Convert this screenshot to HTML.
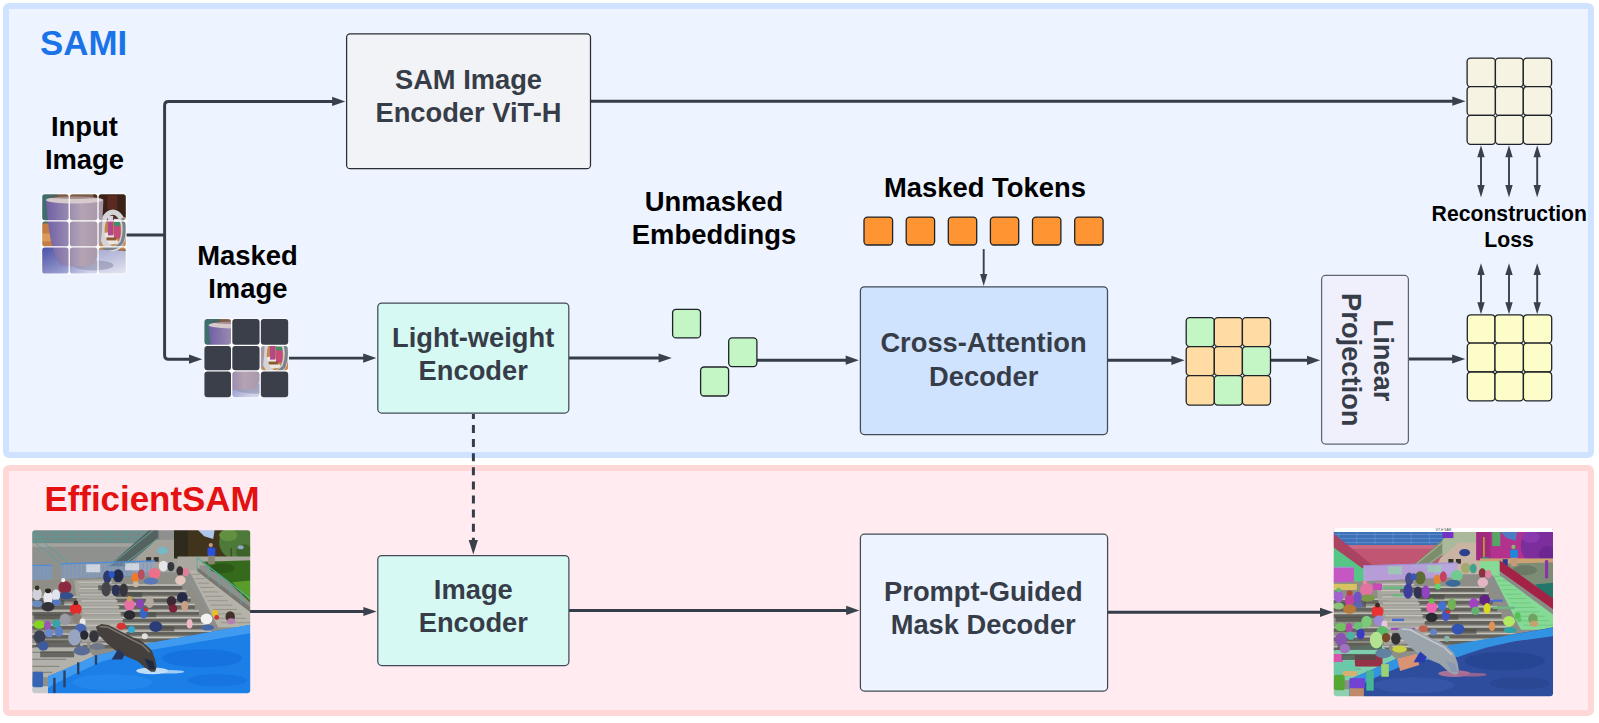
<!DOCTYPE html>
<html><head><meta charset="utf-8">
<style>
html,body{margin:0;padding:0;background:#fff;}
body{width:1599px;height:723px;overflow:hidden;}
svg{display:block;}
text{font-family:"Liberation Sans",sans-serif;font-weight:bold;}
.ln{stroke:#353d48;stroke-width:2.95;fill:none;stroke-linejoin:round;}
.tl{stroke:#39414c;stroke-width:1.9;fill:none;}
.ah{fill:#39414c;stroke:none;}
.bx{stroke:#434a55;stroke-width:1.25;}
.lb{fill:#000;font-size:27.4px;text-anchor:middle;}
.bt{fill:#373d48;font-size:27.3px;text-anchor:middle;}
.sq{stroke:#1f2228;stroke-width:1.3;}
</style></head><body>
<svg width="1599" height="723" viewBox="0 0 1599 723">
<!-- PANELS -->
<rect x="6" y="6" width="1585" height="449" rx="3" fill="#edf4ff" stroke="#cfe2ff" stroke-width="6"/>
<rect x="6" y="468" width="1585" height="245" rx="3" fill="#ffebf0" stroke="#ffd7d7" stroke-width="6"/>
<!-- TITLES -->
<text x="40" y="55.4" font-size="34.9" fill="#1a73e8">SAMI</text>
<text x="44.4" y="510.6" font-size="34.9" fill="#e31111">EfficientSAM</text>
<!-- LABELS -->
<text class="lb" x="84.4" y="135.5">Input</text>
<text class="lb" x="84.5" y="168.7">Image</text>
<text class="lb" x="247.4" y="264.8">Masked</text>
<text class="lb" x="247.8" y="297.7">Image</text>
<text class="lb" x="714" y="211">Unmasked</text>
<text class="lb" x="714" y="244">Embeddings</text>
<text class="lb" x="985" y="197.3">Masked Tokens</text>
<text class="lb" x="1509.3" y="221.2" style="font-size:21.2px">Reconstruction</text>
<text class="lb" x="1509" y="246.7" style="font-size:21.2px">Loss</text>
<!-- CONNECTORS -->
<g id="conn">
<path class="ln" style="stroke-width:3.2" d="M126 235 H164.6"/>
<path class="ln" d="M334 101.4 H168.6 Q164.6 101.4 164.6 105.4 V355.2 Q164.6 359.2 168.6 359.2 H191"/>
<path class="ah" d="M345.3 101.4 l-13.2 -4.6 v9.2z"/>
<path class="ah" d="M202.2 359.2 l-13.2 -4.6 v9.2z"/>
<path class="ln" d="M289 358.1 H365"/><path class="ah" d="M376.4 358.1 l-13.2 -4.6 v9.2z"/>
<path class="ln" d="M569 358 H660"/><path class="ah" d="M671.8 358 l-13.2 -4.6 v9.2z"/>
<path class="ln" d="M757 360.2 H847"/><path class="ah" d="M858.9 360.2 l-13.2 -4.6 v9.2z"/>
<path class="ln" d="M1107.5 360.3 H1173"/><path class="ah" d="M1184.6 360.3 l-13.2 -4.6 v9.2z"/>
<path class="ln" d="M1271 360.3 H1308"/><path class="ah" d="M1320.2 360.3 l-13.2 -4.6 v9.2z"/>
<path class="ln" d="M1408.4 359 H1453"/><path class="ah" d="M1465.3 359 l-13.2 -4.6 v9.2z"/>
<path class="ln" d="M590.5 101.2 H1453"/><path class="ah" d="M1465.5 101.2 l-13.2 -4.6 v9.2z"/>
<path class="ln" d="M250 611.5 H365"/><path class="ah" d="M376.6 611.5 l-13.2 -4.6 v9.2z"/>
<path class="ln" d="M569 610.5 H847"/><path class="ah" d="M859.4 610.4 l-13.2 -4.6 v9.2z"/>
<path class="ln" d="M1107.5 612.3 H1321"/><path class="ah" d="M1333.2 612.3 l-13.2 -4.6 v9.2z"/>
<path class="ln" stroke-dasharray="8 6.1" stroke-dashoffset="3" style="stroke-width:3" d="M473.4 413.9 V541"/>
<path class="ah" d="M473.3 554.6 l-4.6 -14.6 h9.2z"/>
<path class="tl" d="M983.7 249.1 V276"/><path class="ah" d="M983.7 285.9 l-3.6 -12 h7.2z"/>
</g>
<!-- double arrows -->
<g id="dbl">
<path class="tl" d="M1481 156 V186 M1509 156 V186 M1537.2 156 V186 M1481 274 V303 M1509 274 V303 M1537.2 274 V303"/>
<path class="ah" d="M1481 145.3 l-3.7 12 h7.4z M1509 145.3 l-3.7 12 h7.4z M1537.2 145.3 l-3.7 12 h7.4z"/>
<path class="ah" d="M1481 197.4 l-3.7 -12.3 h7.4z M1509 197.4 l-3.7 -12.3 h7.4z M1537.2 197.4 l-3.7 -12.3 h7.4z"/>
<path class="ah" d="M1481 263.3 l-3.7 11.7 h7.4z M1509 263.3 l-3.7 11.7 h7.4z M1537.2 263.3 l-3.7 11.7 h7.4z"/>
<path class="ah" d="M1481 314.2 l-3.7 -12 h7.4z M1509 314.2 l-3.7 -12 h7.4z M1537.2 314.2 l-3.7 -12 h7.4z"/>
</g>
<!-- BOXES -->
<g id="boxes">
<rect class="bx" style="stroke:#2a2d33" x="346.6" y="33.9" width="243.9" height="134.8" rx="3.5" fill="#f2f3f6"/>
<text class="bt" x="468.5" y="89">SAM Image</text>
<text class="bt" x="468.5" y="122">Encoder ViT-H</text>
<rect class="bx" x="377.8" y="303" width="191" height="110" rx="4" fill="#d7f9f4"/>
<text class="bt" x="473.2" y="347.1">Light-weight</text>
<text class="bt" x="473.2" y="380.1">Encoder</text>
<rect class="bx" x="860.4" y="286.8" width="247.1" height="147.7" rx="4" fill="#cfe3ff"/>
<text class="bt" x="983.5" y="351.9">Cross-Attention</text>
<text class="bt" x="983.7" y="385.5">Decoder</text>
<rect class="bx" style="stroke:#5d6570" x="1321.6" y="275.4" width="86.8" height="168.6" rx="4" fill="#f0f0fc"/>
<text class="bt" transform="translate(1374.2 360.5) rotate(90)" x="0" y="0">Linear</text>
<text class="bt" transform="translate(1341.8 359.8) rotate(90)" x="0" y="0">Projection</text>
<rect class="bx" x="377.8" y="555.5" width="191.1" height="110" rx="4" fill="#d7f9f4"/>
<text class="bt" x="473.3" y="599.1">Image</text>
<text class="bt" x="473.3" y="632">Encoder</text>
<rect class="bx" x="860.4" y="534.2" width="247.2" height="156.8" rx="4" fill="#edf4ff"/>
<text class="bt" x="983.4" y="600.9">Prompt-Guided</text>
<text class="bt" x="983.2" y="633.8">Mask Decoder</text>
</g>
<!-- SQUARES -->
<g id="squares">
<g fill="#c3f6c4">
<rect class="sq" x="672.6" y="309.3" width="27.9" height="28.6" rx="3.5"/>
<rect class="sq" x="728.7" y="337.9" width="28.2" height="28.7" rx="3.5"/>
<rect class="sq" x="700.6" y="367" width="28" height="29" rx="3.5"/>
</g>
<g fill="#ff9532">
<rect class="sq" x="864" y="217.1" width="28.6" height="27.9" rx="3.5"/>
<rect class="sq" x="906.2" y="217.1" width="28.4" height="27.9" rx="3.5"/>
<rect class="sq" x="948.3" y="217.1" width="28.4" height="27.9" rx="3.5"/>
<rect class="sq" x="990.4" y="217.1" width="28.3" height="27.9" rx="3.5"/>
<rect class="sq" x="1032.5" y="217.1" width="28.4" height="27.9" rx="3.5"/>
<rect class="sq" x="1074.7" y="217.1" width="28.4" height="27.9" rx="3.5"/>
</g>
</g>
<g id="grids">
<rect class="sq" x="1186.2" y="317.7" width="28.1" height="28.9" rx="3.5" fill="#c3f6c4"/>
<rect class="sq" x="1214.3" y="317.7" width="28.1" height="28.9" rx="3.5" fill="#ffdca3"/>
<rect class="sq" x="1242.4" y="317.7" width="28.1" height="28.9" rx="3.5" fill="#ffdca3"/>
<rect class="sq" x="1186.2" y="346.6" width="28.1" height="29.0" rx="3.5" fill="#ffdca3"/>
<rect class="sq" x="1214.3" y="346.6" width="28.1" height="29.0" rx="3.5" fill="#ffdca3"/>
<rect class="sq" x="1242.4" y="346.6" width="28.1" height="29.0" rx="3.5" fill="#c3f6c4"/>
<rect class="sq" x="1186.2" y="375.6" width="28.1" height="29.5" rx="3.5" fill="#ffdca3"/>
<rect class="sq" x="1214.3" y="375.6" width="28.1" height="29.5" rx="3.5" fill="#c3f6c4"/>
<rect class="sq" x="1242.4" y="375.6" width="28.1" height="29.5" rx="3.5" fill="#ffdca3"/>
<rect class="sq" x="1467.3" y="314.8" width="27.7" height="28.3" rx="3.5" fill="#fdfdc9"/>
<rect class="sq" x="1495.0" y="314.8" width="28.4" height="28.3" rx="3.5" fill="#fdfdc9"/>
<rect class="sq" x="1523.4" y="314.8" width="28.3" height="28.3" rx="3.5" fill="#fdfdc9"/>
<rect class="sq" x="1467.3" y="343.1" width="27.7" height="28.9" rx="3.5" fill="#fdfdc9"/>
<rect class="sq" x="1495.0" y="343.1" width="28.4" height="28.9" rx="3.5" fill="#fdfdc9"/>
<rect class="sq" x="1523.4" y="343.1" width="28.3" height="28.9" rx="3.5" fill="#fdfdc9"/>
<rect class="sq" x="1467.3" y="372.0" width="27.7" height="28.8" rx="3.5" fill="#fdfdc9"/>
<rect class="sq" x="1495.0" y="372.0" width="28.4" height="28.8" rx="3.5" fill="#fdfdc9"/>
<rect class="sq" x="1523.4" y="372.0" width="28.3" height="28.8" rx="3.5" fill="#fdfdc9"/>
<rect class="sq" x="1467.1" y="58.1" width="28.3" height="28.6" rx="3.5" fill="#f6f3e2"/>
<rect class="sq" x="1495.4" y="58.1" width="27.9" height="28.6" rx="3.5" fill="#f6f3e2"/>
<rect class="sq" x="1523.3" y="58.1" width="28.3" height="28.6" rx="3.5" fill="#f6f3e2"/>
<rect class="sq" x="1467.1" y="86.7" width="28.3" height="28.7" rx="3.5" fill="#f6f3e2"/>
<rect class="sq" x="1495.4" y="86.7" width="27.9" height="28.7" rx="3.5" fill="#f6f3e2"/>
<rect class="sq" x="1523.3" y="86.7" width="28.3" height="28.7" rx="3.5" fill="#f6f3e2"/>
<rect class="sq" x="1467.1" y="115.4" width="28.3" height="28.9" rx="3.5" fill="#f6f3e2"/>
<rect class="sq" x="1495.4" y="115.4" width="27.9" height="28.9" rx="3.5" fill="#f6f3e2"/>
<rect class="sq" x="1523.3" y="115.4" width="28.3" height="28.9" rx="3.5" fill="#f6f3e2"/>
</g>
<!-- PHOTO_L -->
<defs><clipPath id="cpL"><rect x="0" y="0.00" width="218" height="163.00" rx="3"/></clipPath><filter id="blL" x="-5%" y="-5%" width="110%" height="110%"><feGaussianBlur stdDeviation="0.55"/></filter></defs>
<g transform="translate(32.2 530.3) scale(1.0000 1.0000)" clip-path="url(#cpL)">
<g filter="url(#blL)">
<rect x="-3" y="-3" width="224" height="169" fill="#8e908d"/>
<rect x="-3" y="-3" width="130" height="16" fill="#788886"/>
<path d="M0 2.5H120M0 6.5H118M0 10.5H112" stroke="#5b9a98" stroke-width="0.9" fill="none"/>
<path d="M5 0V12M23 0V12M41 0V12M59 0V12M77 0V12M95 0V12" stroke="#5b9a98" stroke-width="0.8"/>
<rect x="-3" y="13" width="112" height="40" fill="#8f918f"/>
<rect x="-3" y="13" width="112" height="3.5" fill="#a2a39e"/>
<path d="M0 3L40 35M0 10L32 36" stroke="#56a09a" stroke-width="0.9" fill="none"/>
<polygon points="76,36 92,36 126,9 126,-1 118,-1" fill="#56625f"/>
<path d="M78 35L121 0M90 35L126 8" stroke="#5aa8a0" stroke-width="1" fill="none"/>
<polygon points="100,38 106,26 124,9.5 146,9.5 146,42 100,42" fill="#a4a19a"/>
<ellipse cx="130.2" cy="20.4" rx="5.4" ry="3.6" fill="#74b9c9"/>
<rect x="114" y="26.8" width="5" height="4.6" fill="#35322f"/><rect x="121.5" y="26.8" width="5" height="4.6" fill="#35322f"/>
<rect x="141.8" y="-3" width="80" height="31" fill="#40361f"/>
<rect x="141.8" y="-3" width="14" height="31" fill="#2f2c1c"/>
<polygon points="165,-1 182.5,-1 181,8.7 172,6" fill="#adc6ea"/>
<ellipse cx="204" cy="12" rx="17" ry="17" fill="#4e7a38"/>
<ellipse cx="196" cy="5" rx="9" ry="6" fill="#64903f"/>
<ellipse cx="212" cy="22" rx="8" ry="8" fill="#3d6428"/>
<ellipse cx="208.5" cy="17" rx="3" ry="2" fill="#8fa6c5"/>
<path d="M199 18V34M210 26V46" stroke="#4a4430" stroke-width="1.4"/>
<rect x="145.3" y="26.2" width="76" height="9" fill="#a9a79e"/>
<rect x="145.3" y="29" width="22" height="14" fill="#aaa89e"/>
<polygon points="169,31.5 221,30 221,75 196,52" fill="#34691d"/>
<polygon points="200,52 221,50 221,74" fill="#5a9c2c"/>
<ellipse cx="190" cy="38" rx="12" ry="5" fill="#2c5a18"/>
<rect x="176" y="25" width="6.5" height="9" fill="#8b8672"/>
<rect x="175.3" y="17.3" width="7.8" height="8.2" rx="1.5" fill="#2a4fdc"/>
<circle cx="178.6" cy="14.8" r="2.1" fill="#c49a7a"/>
<polygon points="157,40 166,40 221,82 221,97 186,97" fill="#b4b2a9"/>
<path d="M160.0 44.0H168.0" stroke="#8f8d85" stroke-width="0.8"/>
<path d="M162.6 48.4H172.6" stroke="#8f8d85" stroke-width="0.8"/>
<path d="M165.2 52.8H177.2" stroke="#8f8d85" stroke-width="0.8"/>
<path d="M167.8 57.2H181.8" stroke="#8f8d85" stroke-width="0.8"/>
<path d="M170.4 61.6H186.4" stroke="#8f8d85" stroke-width="0.8"/>
<path d="M173.0 66.0H191.0" stroke="#8f8d85" stroke-width="0.8"/>
<path d="M175.6 70.4H195.6" stroke="#8f8d85" stroke-width="0.8"/>
<path d="M178.2 74.8H200.2" stroke="#8f8d85" stroke-width="0.8"/>
<path d="M180.8 79.2H204.8" stroke="#8f8d85" stroke-width="0.8"/>
<path d="M183.4 83.6H209.4" stroke="#8f8d85" stroke-width="0.8"/>
<path d="M186.0 88.0H214.0" stroke="#8f8d85" stroke-width="0.8"/>
<path d="M188.6 92.4H218.6" stroke="#8f8d85" stroke-width="0.8"/>
<polygon points="165,37 221,79 221,84 165,41" fill="#77766f"/>
<path d="M165 27.5L221 70.5" stroke="#53b09c" stroke-width="1.1"/>
<path d="M165 27.5V40M176 36V48M187 44.5V56.5M198 53V65M209 61.5V73.5M220 70V82" stroke="#53b09c" stroke-width="0.8"/>
<rect x="0" y="34.7" width="20" height="17" fill="#7b9fd6" opacity="0.45"/>
<polygon points="29.5,33.5 123,30.5 123,45 29.5,50" fill="#86a4d2" opacity="0.4"/>
<path d="M0 35H20M0 51H20M29.5 33.5L123 30.5M29.5 50L100 46" stroke="#4f8ad8" stroke-width="1.2"/>
<path d="M2 35V51M6 35V51M10 35V51M14 35V51M18 35V51" stroke="#5f92dc" stroke-width="0.7" opacity="0.8"/>
<path d="M31 33.5V49.9M35 33.3V49.7M39 33.2V49.5M43 33.1V49.3M47 32.9V49.0M51 32.8V48.8M55 32.7V48.6M59 32.6V48.4M63 32.4V48.2M67 32.3V47.9M71 32.2V47.7M75 32.0V47.5M79 31.9V47.3M83 31.8V47.1M87 31.7V46.8M91 31.5V46.6M95 31.4V46.4M99 31.3V46.2M103 31.1V46.0M107 31.0V45.7M111 30.9V45.5M115 30.8V45.3M119 30.6V45.1" stroke="#5f92dc" stroke-width="0.7" opacity="0.75"/>
<rect x="54" y="34" width="14" height="8" fill="#dfe4ea" opacity="0.8"/><rect x="93" y="33" width="14" height="7" fill="#dfe4ea" opacity="0.8"/>
<polygon points="-3,50 150,44 186,97 -3,140" fill="#8f8e86"/>
<rect x="48.0" y="55.4" width="102.0" height="3.8" fill="#63625d"/>
<rect x="48.0" y="54.0" width="102.0" height="1.5" fill="#c2c1ba"/>
<rect x="46.5" y="61.4" width="107.7" height="3.8" fill="#63625d"/>
<rect x="46.5" y="60.0" width="107.7" height="1.5" fill="#c2c1ba"/>
<rect x="45.0" y="68.0" width="113.4" height="3.8" fill="#63625d"/>
<rect x="45.0" y="66.6" width="113.4" height="1.5" fill="#c2c1ba"/>
<rect x="46.0" y="74.8" width="116.6" height="3.8" fill="#63625d"/>
<rect x="46.0" y="73.4" width="116.6" height="1.5" fill="#c2c1ba"/>
<rect x="48.0" y="81.3" width="118.8" height="3.8" fill="#63625d"/>
<rect x="48.0" y="79.9" width="118.8" height="1.5" fill="#c2c1ba"/>
<rect x="50.0" y="88.1" width="121.0" height="3.8" fill="#63625d"/>
<rect x="50.0" y="86.7" width="121.0" height="1.5" fill="#c2c1ba"/>
<rect x="52.0" y="94.8" width="123.2" height="3.8" fill="#63625d"/>
<rect x="52.0" y="93.4" width="123.2" height="1.5" fill="#c2c1ba"/>
<rect x="54.0" y="101.4" width="125.4" height="3.8" fill="#63625d"/>
<rect x="54.0" y="100.0" width="125.4" height="1.5" fill="#c2c1ba"/>
<rect x="56.0" y="107.9" width="127.6" height="3.8" fill="#63625d"/>
<rect x="56.0" y="106.5" width="127.6" height="1.5" fill="#c2c1ba"/>
<rect x="58.0" y="114.4" width="129.8" height="3.8" fill="#63625d"/>
<rect x="58.0" y="113.0" width="129.8" height="1.5" fill="#c2c1ba"/>
<rect x="-3" y="67.4" width="58" height="3.9" fill="#65645f"/>
<rect x="-3" y="66.0" width="58" height="1.5" fill="#bdbcb5"/>
<rect x="-3" y="74.9" width="58" height="3.9" fill="#65645f"/>
<rect x="-3" y="73.5" width="58" height="1.5" fill="#bdbcb5"/>
<rect x="-3" y="81.4" width="58" height="3.9" fill="#65645f"/>
<rect x="-3" y="80.0" width="58" height="1.5" fill="#bdbcb5"/>
<rect x="-3" y="95.4" width="58" height="3.9" fill="#65645f"/>
<rect x="-3" y="94.0" width="58" height="1.5" fill="#bdbcb5"/>
<rect x="-3" y="104.4" width="58" height="3.9" fill="#65645f"/>
<rect x="-3" y="103.0" width="58" height="1.5" fill="#bdbcb5"/>
<rect x="-3" y="114.4" width="58" height="3.9" fill="#65645f"/>
<rect x="-3" y="113.0" width="58" height="1.5" fill="#bdbcb5"/>
<rect x="-3" y="123.4" width="58" height="3.9" fill="#65645f"/>
<rect x="-3" y="122.0" width="58" height="1.5" fill="#bdbcb5"/>
<rect x="-3" y="131.4" width="58" height="3.9" fill="#65645f"/>
<rect x="-3" y="130.0" width="58" height="1.5" fill="#bdbcb5"/>
<polygon points="42,50 78,49 96,110 50,112" fill="#a9a8a0" opacity="0.85"/>
<path d="M46.0 52.0H80.0" stroke="#c6c5be" stroke-width="1.1"/>
<path d="M47.0 58.2H81.8" stroke="#c6c5be" stroke-width="1.1"/>
<path d="M48.0 64.4H83.6" stroke="#c6c5be" stroke-width="1.1"/>
<path d="M49.0 70.6H85.4" stroke="#c6c5be" stroke-width="1.1"/>
<path d="M50.0 76.8H87.2" stroke="#c6c5be" stroke-width="1.1"/>
<path d="M51.0 83.0H89.0" stroke="#c6c5be" stroke-width="1.1"/>
<path d="M52.0 89.2H90.8" stroke="#c6c5be" stroke-width="1.1"/>
<path d="M53.0 95.4H92.6" stroke="#c6c5be" stroke-width="1.1"/>
<path d="M54.0 101.6H94.4" stroke="#c6c5be" stroke-width="1.1"/>
<path d="M55.0 107.8H96.2" stroke="#c6c5be" stroke-width="1.1"/>
<polygon points="-3,118 45,110 62,126 16,147 -3,147" fill="#b2b1aa"/>
<path d="M-3 122H40" stroke="#7d7c75" stroke-width="1"/>
<path d="M-3 129H34" stroke="#7d7c75" stroke-width="1"/>
<path d="M-3 136H27" stroke="#7d7c75" stroke-width="1"/>
<path d="M-3 142H20" stroke="#7d7c75" stroke-width="1"/>
<rect x="-3" y="156" width="20" height="10" fill="#c7cacd"/>
<rect x="0.3" y="141.5" width="10.6" height="15.5" rx="2" fill="#3465b4"/>
<rect x="4" y="110" width="44" height="7" fill="#4e4e4a" opacity="0.75"/>
<rect x="8" y="121" width="34" height="6" fill="#4e4e4a" opacity="0.75"/>
<rect x="66" y="55" width="22" height="5" fill="#4e4e4a" opacity="0.75"/>
<rect x="84" y="62" width="26" height="5" fill="#4e4e4a" opacity="0.75"/>
<rect x="100" y="82" width="24" height="5" fill="#4e4e4a" opacity="0.75"/>
<rect x="120" y="96" width="22" height="5" fill="#4e4e4a" opacity="0.75"/>
<rect x="58" y="100" width="20" height="6" fill="#4e4e4a" opacity="0.75"/>
<rect x="2" y="84" width="30" height="5" fill="#4e4e4a" opacity="0.75"/>
<rect x="2" y="70" width="30" height="5" fill="#4e4e4a" opacity="0.75"/>
<ellipse cx="75.1" cy="46.7" rx="4.1" ry="6.5" fill="#2c3a6e"/>
<ellipse cx="86.0" cy="45.5" rx="5.3" ry="6.5" fill="#232c4a"/>
<ellipse cx="79.4" cy="44.3" rx="3.0" ry="3.5" fill="#2a55c8"/>
<ellipse cx="102.9" cy="47.5" rx="3.5" ry="5.3" fill="#ee7a2c"/>
<ellipse cx="103.6" cy="54.0" rx="3.0" ry="3.0" fill="#c8b8a0"/>
<ellipse cx="109.0" cy="44.3" rx="3.5" ry="5.3" fill="#b85060"/>
<ellipse cx="122.3" cy="43.1" rx="5.9" ry="5.3" fill="#ee7088"/>
<ellipse cx="118.6" cy="50.8" rx="7.4" ry="3.5" fill="#5a78b8"/>
<ellipse cx="131.2" cy="35.8" rx="4.7" ry="5.3" fill="#e6e6e6"/>
<ellipse cx="138.7" cy="36.3" rx="3.5" ry="4.7" fill="#33383f"/>
<ellipse cx="147.7" cy="40.7" rx="3.5" ry="4.7" fill="#3a3038"/>
<ellipse cx="153.7" cy="41.9" rx="3.0" ry="4.1" fill="#e0809a"/>
<ellipse cx="148.2" cy="49.9" rx="5.3" ry="4.7" fill="#e3c6be"/>
<ellipse cx="73.9" cy="58.8" rx="4.7" ry="7.4" fill="#45454a"/>
<ellipse cx="83.6" cy="60.0" rx="4.1" ry="5.9" fill="#2b3355"/>
<ellipse cx="91.5" cy="59.6" rx="4.1" ry="6.5" fill="#34343c"/>
<ellipse cx="32.7" cy="57.1" rx="6.5" ry="6.5" fill="#8c2c42"/>
<ellipse cx="31.0" cy="49.9" rx="2.1" ry="2.1" fill="#f0f0f0"/>
<ellipse cx="33.9" cy="65.4" rx="7.4" ry="3.5" fill="#34508c"/>
<ellipse cx="4.9" cy="63.7" rx="4.7" ry="6.5" fill="#d0d0d8"/>
<ellipse cx="4.9" cy="57.6" rx="2.4" ry="2.4" fill="#3a3028"/>
<ellipse cx="4.9" cy="73.4" rx="5.3" ry="3.5" fill="#6a8ac0"/>
<ellipse cx="15.8" cy="67.8" rx="4.7" ry="7.4" fill="#e8e8ee"/>
<ellipse cx="15.8" cy="60.5" rx="3.0" ry="2.4" fill="#2a2420"/>
<ellipse cx="23.8" cy="64.9" rx="4.1" ry="5.9" fill="#dfe4f0"/>
<ellipse cx="24.3" cy="72.1" rx="4.7" ry="3.0" fill="#5578c0"/>
<ellipse cx="15.8" cy="76.5" rx="6.5" ry="4.7" fill="#303038"/>
<ellipse cx="43.6" cy="78.9" rx="5.9" ry="5.9" fill="#e42a2a"/>
<ellipse cx="43.6" cy="72.6" rx="2.4" ry="2.4" fill="#3a2a22"/>
<ellipse cx="97.3" cy="74.6" rx="5.3" ry="5.9" fill="#e870a5"/>
<ellipse cx="97.3" cy="68.5" rx="2.7" ry="2.7" fill="#c8a060"/>
<ellipse cx="97.3" cy="84.7" rx="5.9" ry="4.7" fill="#2b2b33"/>
<ellipse cx="107.8" cy="73.4" rx="4.1" ry="4.7" fill="#8a45b5"/>
<ellipse cx="117.4" cy="71.7" rx="4.1" ry="5.9" fill="#b5aaa0"/>
<ellipse cx="111.4" cy="83.0" rx="4.1" ry="5.3" fill="#3565c5"/>
<ellipse cx="113.8" cy="79.4" rx="2.4" ry="1.8" fill="#d03030"/>
<ellipse cx="139.2" cy="70.9" rx="4.7" ry="5.3" fill="#3a2a35"/>
<ellipse cx="140.9" cy="78.2" rx="4.1" ry="4.1" fill="#7a2038"/>
<ellipse cx="150.1" cy="67.3" rx="5.3" ry="5.3" fill="#222a45"/>
<ellipse cx="152.5" cy="75.8" rx="3.5" ry="5.3" fill="#c8a088"/>
<ellipse cx="7.3" cy="94.4" rx="5.9" ry="4.1" fill="#82d522"/>
<ellipse cx="7.3" cy="106.5" rx="5.9" ry="6.5" fill="#3a4055"/>
<ellipse cx="11.0" cy="115.7" rx="5.3" ry="4.7" fill="#3c5a9c"/>
<ellipse cx="15.3" cy="95.1" rx="3.5" ry="4.7" fill="#9a55b8"/>
<ellipse cx="17.0" cy="102.9" rx="4.1" ry="4.1" fill="#6a8ad0"/>
<ellipse cx="24.3" cy="93.4" rx="4.1" ry="4.1" fill="#35a5a8"/>
<ellipse cx="26.7" cy="101.2" rx="4.1" ry="5.3" fill="#5a80c8"/>
<ellipse cx="32.7" cy="89.1" rx="5.3" ry="5.9" fill="#9a9aa5"/>
<ellipse cx="44.8" cy="87.9" rx="4.7" ry="5.3" fill="#8a8078"/>
<ellipse cx="50.4" cy="92.0" rx="3.0" ry="4.1" fill="#e8e8e8"/>
<ellipse cx="48.5" cy="99.2" rx="5.9" ry="5.9" fill="#4a68b0"/>
<ellipse cx="89.1" cy="95.9" rx="4.7" ry="3.5" fill="#d83030"/>
<ellipse cx="99.3" cy="99.2" rx="3.5" ry="3.5" fill="#35a8d0"/>
<ellipse cx="123.5" cy="96.3" rx="6.5" ry="5.3" fill="#2b3c78"/>
<ellipse cx="157.4" cy="93.4" rx="3.0" ry="4.7" fill="#f0b8c5"/>
<ellipse cx="174.3" cy="88.6" rx="5.9" ry="5.3" fill="#f2f2f2"/>
<ellipse cx="175.5" cy="97.3" rx="6.5" ry="3.0" fill="#4a68a8"/>
<ellipse cx="182.8" cy="83.0" rx="3.0" ry="3.5" fill="#e8c020"/>
<ellipse cx="184.5" cy="87.1" rx="2.4" ry="2.4" fill="#d03030"/>
<ellipse cx="198.0" cy="86.2" rx="4.7" ry="5.3" fill="#40302a"/>
<ellipse cx="199.0" cy="91.0" rx="4.1" ry="3.0" fill="#b880b0"/>
<ellipse cx="42.4" cy="107.2" rx="6.5" ry="8.3" fill="#98a4c0"/>
<ellipse cx="49.7" cy="120.5" rx="8.3" ry="4.7" fill="#5a6c95"/>
<ellipse cx="52.1" cy="104.8" rx="4.1" ry="4.7" fill="#2a2a30"/>
<ellipse cx="61.8" cy="106.0" rx="4.7" ry="5.9" fill="#35353a"/>
<ellipse cx="65.4" cy="116.2" rx="7.4" ry="3.5" fill="#707888"/>
<ellipse cx="112.6" cy="106.0" rx="3.0" ry="3.0" fill="#e0e0e0"/>
<polygon points="15.8,166 15.8,146 36.4,137.5 63,125.4 116.5,113 221,94 221,166" fill="#1b7fe8"/>
<polygon points="15.8,146 36.4,137.5 63,125.4 116.5,113 221,94 221,102.5 120,119.5 70,131 40,145 20,155 15.8,158" fill="#3f9bf0"/>
<ellipse cx="170" cy="128" rx="40" ry="9" fill="#1468d6" opacity="0.55"/>
<ellipse cx="185" cy="150" rx="30" ry="6" fill="#1468d6" opacity="0.45"/>
<ellipse cx="80" cy="152" rx="40" ry="8" fill="#2a8cf0" opacity="0.6"/>
<rect x="21" y="147.5" width="2.4" height="15.5" fill="#2a3f66"/>
<rect x="31.1" y="140.3" width="2.4" height="16.7" fill="#2a3f66"/>
<rect x="44.8" y="132" width="2.4" height="12.0" fill="#2a3f66"/>
<rect x="62.6" y="124.9" width="2.4" height="9.5" fill="#2a3f66"/>
<ellipse cx="120" cy="140.5" rx="16" ry="3.4" fill="#cfe8fb" opacity="0.9"/>
<ellipse cx="138" cy="141.5" rx="14" ry="1.8" fill="#bfe0fa" opacity="0.8"/>
<path d="M64.4 96.8 L69.0 94.4 L76.0 95.2 L87.0 101.0 L100.0 107.5 L106.0 109.5 L111.0 113.0 L118.9 120.2 L122.5 129.7 L123.8 136.8 L122.5 140.8 L118.9 140.8 L113.0 136.8 L105.8 130.5 L98.0 127.2 L91.7 124.5 L83.4 119.5 L75.0 112.5 L66.8 103.8Z" fill="#45413e" stroke="#45413e" stroke-width="1.2" stroke-linejoin="round"/>
<path d="M68.0 96.3 L76.0 97.0 L87.0 102.8 L100.0 109.5 L110.0 114.5 L117.0 121.5" stroke="#80776d" stroke-width="1.5" fill="none" stroke-linecap="round" stroke-linejoin="round"/>
<path d="M112 128 L121 131 L123 139 L117 139Z" fill="#1f2c44"/>
<polygon points="86.0,118.6 79.4,129.3 90.1,129.3 92.5,123.9" fill="#25365c"/>
</g>
</g>
<!-- /PHOTO_L -->
<!-- PHOTO_R -->
<defs><clipPath id="cpR"><rect x="0" y="-3.97" width="218" height="166.97" rx="3"/></clipPath><filter id="blR" x="-5%" y="-5%" width="110%" height="110%"><feGaussianBlur stdDeviation="0.55"/></filter></defs>
<g transform="translate(1333.7 532) scale(1.0060 1.0080)" clip-path="url(#cpR)">
<g filter="url(#blR)">
<rect x="-3" y="-3" width="224" height="169" fill="#8c8e8c"/>
<rect x="-3" y="-3" width="130" height="16" fill="#3e70b6"/>
<path d="M0 2.5H120M0 6.5H118M0 10.5H112" stroke="#5f8fcc" stroke-width="0.9" fill="none"/>
<path d="M5 0V12M23 0V12M41 0V12M59 0V12M77 0V12M95 0V12" stroke="#5f8fcc" stroke-width="0.8"/>
<rect x="-3" y="13" width="112" height="40" fill="#c05671"/>
<rect x="-3" y="13" width="112" height="3.5" fill="#c86a82"/>
<polygon points="-3,13 31,36.5 31,51.5 -3,51.5" fill="#57c686"/>
<polygon points="-3,-0.7 38.5,33 37.5,36 28.5,36 -3,13.2" fill="#aa4262"/>
<rect x="-3" y="36.2" width="23" height="15.3" fill="#c556c4"/>
<polygon points="76,36 92,36 126,9 126,-1 118,-1" fill="#7d8d6e"/>
<path d="M78 35L121 0M90 35L126 8" stroke="#a3b38b" stroke-width="1" fill="none"/>
<polygon points="100,38 106,26 124,9.5 146,9.5 146,42 100,42" fill="#c9b3a3"/>
<ellipse cx="130.2" cy="20.4" rx="5.4" ry="3.6" fill="#2d408d"/>
<rect x="114" y="26.8" width="5" height="4.6" fill="#35322f"/><rect x="121.5" y="26.8" width="5" height="4.6" fill="#35322f"/>
<polygon points="119,-3 143,-3 143,10.5 124,10.5 108,24 108,8" fill="#a9b999"/>
<rect x="108" y="-3" width="11" height="9" fill="#7333c3"/>
<rect x="141.8" y="-3" width="80" height="31" fill="#b3318d"/>
<rect x="141.8" y="-3" width="14" height="31" fill="#a02a80"/>
<rect x="157.6" y="-3" width="8" height="17" fill="#56a666"/>
<rect x="148.5" y="5" width="1.6" height="21" fill="#c4a424"/><rect x="147" y="25" width="7.5" height="4" fill="#2a8a8a"/>
<polygon points="165,-1 182.5,-1 181,8.7 172,6" fill="#4d7bc3"/>
<ellipse cx="204.5" cy="14" rx="18.5" ry="19" fill="#7b2d9d"/>
<ellipse cx="196" cy="5" rx="9" ry="6" fill="#8a38ad"/>
<ellipse cx="212" cy="22" rx="8" ry="8" fill="#6e2890"/>
<rect x="145.3" y="26.2" width="76" height="9" fill="#cba373"/>
<rect x="145.3" y="29" width="22" height="14" fill="#85db95"/>
<polygon points="169,31.5 221,30 221,75 196,52" fill="#7d8d75"/>
<polygon points="200,52 221,50 221,74" fill="#20766a"/>
<ellipse cx="190" cy="38" rx="12" ry="5" fill="#6a7a66"/>
<path d="M211.6 28V46" stroke="#8b31a9" stroke-width="3.2"/>
<rect x="168" y="27" width="5" height="7" fill="#2a3a9a"/>
<rect x="176" y="25" width="6.5" height="9" fill="#c09a7a"/>
<rect x="175.3" y="17.3" width="7.8" height="8.2" rx="1.5" fill="#2185d7"/>
<circle cx="178.6" cy="14.8" r="2.1" fill="#8ab86a"/>
<polygon points="157,40 166,40 221,82 221,97 186,97" fill="#85db95"/>
<path d="M160.0 44.0H168.0" stroke="#6cc27c" stroke-width="0.8"/>
<path d="M162.6 48.4H172.6" stroke="#6cc27c" stroke-width="0.8"/>
<path d="M165.2 52.8H177.2" stroke="#6cc27c" stroke-width="0.8"/>
<path d="M167.8 57.2H181.8" stroke="#6cc27c" stroke-width="0.8"/>
<path d="M170.4 61.6H186.4" stroke="#6cc27c" stroke-width="0.8"/>
<path d="M173.0 66.0H191.0" stroke="#6cc27c" stroke-width="0.8"/>
<path d="M175.6 70.4H195.6" stroke="#6cc27c" stroke-width="0.8"/>
<path d="M178.2 74.8H200.2" stroke="#6cc27c" stroke-width="0.8"/>
<path d="M180.8 79.2H204.8" stroke="#6cc27c" stroke-width="0.8"/>
<path d="M183.4 83.6H209.4" stroke="#6cc27c" stroke-width="0.8"/>
<path d="M186.0 88.0H214.0" stroke="#6cc27c" stroke-width="0.8"/>
<path d="M188.6 92.4H218.6" stroke="#6cc27c" stroke-width="0.8"/>
<polygon points="165,28 221,68 221,79 165,39" fill="#a52447"/>
<polygon points="165,39 221,79 221,84 165,43" fill="#8a8a86"/>
<rect x="0" y="34.7" width="20" height="17" fill="#c556c4" opacity="0.9"/>
<polygon points="29.5,33.5 123,30.5 123,45 29.5,50" fill="#b5a5e3" opacity="0.9"/>
<path d="M0 35H20M0 51H20M29.5 33.5L123 30.5M29.5 50L100 46" stroke="#9f8fd3" stroke-width="1.2"/>
<rect x="54" y="34" width="14" height="8" fill="#9ad0b0" opacity="0.8"/><rect x="93" y="33" width="14" height="7" fill="#9ad0b0" opacity="0.8"/>
<polygon points="-3,50 150,44 186,97 -3,140" fill="#8f8e86"/>
<rect x="48.0" y="55.4" width="102.0" height="3.8" fill="#63625d"/>
<rect x="48.0" y="54.0" width="102.0" height="1.5" fill="#c2c1ba"/>
<rect x="46.5" y="61.4" width="107.7" height="3.8" fill="#63625d"/>
<rect x="46.5" y="60.0" width="107.7" height="1.5" fill="#c2c1ba"/>
<rect x="45.0" y="68.0" width="113.4" height="3.8" fill="#63625d"/>
<rect x="45.0" y="66.6" width="113.4" height="1.5" fill="#c2c1ba"/>
<rect x="46.0" y="74.8" width="116.6" height="3.8" fill="#63625d"/>
<rect x="46.0" y="73.4" width="116.6" height="1.5" fill="#c2c1ba"/>
<rect x="48.0" y="81.3" width="118.8" height="3.8" fill="#63625d"/>
<rect x="48.0" y="79.9" width="118.8" height="1.5" fill="#c2c1ba"/>
<rect x="50.0" y="88.1" width="121.0" height="3.8" fill="#63625d"/>
<rect x="50.0" y="86.7" width="121.0" height="1.5" fill="#c2c1ba"/>
<rect x="52.0" y="94.8" width="123.2" height="3.8" fill="#63625d"/>
<rect x="52.0" y="93.4" width="123.2" height="1.5" fill="#c2c1ba"/>
<rect x="54.0" y="101.4" width="125.4" height="3.8" fill="#63625d"/>
<rect x="54.0" y="100.0" width="125.4" height="1.5" fill="#c2c1ba"/>
<rect x="56.0" y="107.9" width="127.6" height="3.8" fill="#63625d"/>
<rect x="56.0" y="106.5" width="127.6" height="1.5" fill="#c2c1ba"/>
<rect x="58.0" y="114.4" width="129.8" height="3.8" fill="#63625d"/>
<rect x="58.0" y="113.0" width="129.8" height="1.5" fill="#c2c1ba"/>
<rect x="-3" y="67.4" width="58" height="3.9" fill="#65645f"/>
<rect x="-3" y="66.0" width="58" height="1.5" fill="#bdbcb5"/>
<rect x="-3" y="74.9" width="58" height="3.9" fill="#65645f"/>
<rect x="-3" y="73.5" width="58" height="1.5" fill="#bdbcb5"/>
<rect x="-3" y="81.4" width="58" height="3.9" fill="#65645f"/>
<rect x="-3" y="80.0" width="58" height="1.5" fill="#bdbcb5"/>
<rect x="-3" y="95.4" width="58" height="3.9" fill="#65645f"/>
<rect x="-3" y="94.0" width="58" height="1.5" fill="#bdbcb5"/>
<rect x="-3" y="104.4" width="58" height="3.9" fill="#65645f"/>
<rect x="-3" y="103.0" width="58" height="1.5" fill="#bdbcb5"/>
<rect x="-3" y="114.4" width="58" height="3.9" fill="#65645f"/>
<rect x="-3" y="113.0" width="58" height="1.5" fill="#bdbcb5"/>
<rect x="-3" y="123.4" width="58" height="3.9" fill="#65645f"/>
<rect x="-3" y="122.0" width="58" height="1.5" fill="#bdbcb5"/>
<rect x="-3" y="131.4" width="58" height="3.9" fill="#65645f"/>
<rect x="-3" y="130.0" width="58" height="1.5" fill="#bdbcb5"/>
<polygon points="42,50 78,49 96,110 50,112" fill="#a9a8a0" opacity="0.85"/>
<path d="M46.0 52.0H80.0" stroke="#c6c5be" stroke-width="1.1"/>
<path d="M47.0 58.2H81.8" stroke="#c6c5be" stroke-width="1.1"/>
<path d="M48.0 64.4H83.6" stroke="#c6c5be" stroke-width="1.1"/>
<path d="M49.0 70.6H85.4" stroke="#c6c5be" stroke-width="1.1"/>
<path d="M50.0 76.8H87.2" stroke="#c6c5be" stroke-width="1.1"/>
<path d="M51.0 83.0H89.0" stroke="#c6c5be" stroke-width="1.1"/>
<path d="M52.0 89.2H90.8" stroke="#c6c5be" stroke-width="1.1"/>
<path d="M53.0 95.4H92.6" stroke="#c6c5be" stroke-width="1.1"/>
<path d="M54.0 101.6H94.4" stroke="#c6c5be" stroke-width="1.1"/>
<path d="M55.0 107.8H96.2" stroke="#c6c5be" stroke-width="1.1"/>
<polygon points="-3,118 45,110 62,126 16,147 -3,147" fill="#7fcfae"/>
<path d="M-3 122H40" stroke="#5caf8e" stroke-width="1"/>
<path d="M-3 129H34" stroke="#5caf8e" stroke-width="1"/>
<path d="M-3 136H27" stroke="#5caf8e" stroke-width="1"/>
<path d="M-3 142H20" stroke="#5caf8e" stroke-width="1"/>
<rect x="-3" y="121" width="12" height="8" fill="#d556aa"/>
<rect x="21" y="122" width="27.5" height="11.5" fill="#963246"/>
<polygon points="-3,130 20,128 24,142 -3,146" fill="#6bc9a9"/>
<rect x="9" y="138" width="14" height="5" fill="#d8b070"/>
<rect x="-3" y="156" width="20" height="10" fill="#8fd0b0"/>
<rect x="0.3" y="141.5" width="10.6" height="15.5" rx="2" fill="#56a636"/>
<rect x="4" y="110" width="44" height="7" fill="#4e4e4a" opacity="0.75"/>
<rect x="8" y="121" width="34" height="6" fill="#4e4e4a" opacity="0.75"/>
<rect x="66" y="55" width="22" height="5" fill="#4e4e4a" opacity="0.75"/>
<rect x="84" y="62" width="26" height="5" fill="#4e4e4a" opacity="0.75"/>
<rect x="100" y="82" width="24" height="5" fill="#4e4e4a" opacity="0.75"/>
<rect x="120" y="96" width="22" height="5" fill="#4e4e4a" opacity="0.75"/>
<rect x="58" y="100" width="20" height="6" fill="#4e4e4a" opacity="0.75"/>
<rect x="2" y="84" width="30" height="5" fill="#4e4e4a" opacity="0.75"/>
<rect x="2" y="70" width="30" height="5" fill="#4e4e4a" opacity="0.75"/>
<rect x="-3" y="51.5" width="26" height="6" fill="#d9c262"/>
<rect x="39" y="51" width="9" height="6.6" fill="#c848b8"/>
<rect x="49" y="54" width="23" height="2.6" fill="#6ab880"/><rect x="58.7" y="61.6" width="10" height="2.4" fill="#6ab880"/>
<rect x="150" y="67" width="18" height="2.2" fill="#4a6ad0"/><rect x="158" y="74" width="22" height="2.4" fill="#6ab880"/><rect x="58" y="86" width="12" height="2.4" fill="#4a6ad0"/><rect x="57" y="95" width="24" height="2.2" fill="#9a4ac0"/>
<ellipse cx="75.1" cy="46.7" rx="4.1" ry="6.5" fill="#444c86"/>
<ellipse cx="86.0" cy="45.5" rx="5.3" ry="6.5" fill="#5c6c34"/>
<ellipse cx="79.4" cy="44.3" rx="3.0" ry="3.5" fill="#3a55b8"/>
<ellipse cx="102.9" cy="47.5" rx="3.5" ry="5.3" fill="#e08434"/>
<ellipse cx="103.6" cy="54.0" rx="3.0" ry="3.0" fill="#62d272"/>
<ellipse cx="109.0" cy="44.3" rx="3.5" ry="5.3" fill="#c24262"/>
<ellipse cx="122.3" cy="43.1" rx="5.9" ry="5.3" fill="#72ca92"/>
<ellipse cx="118.6" cy="50.8" rx="7.4" ry="3.5" fill="#3a6a9a"/>
<ellipse cx="131.2" cy="35.8" rx="4.7" ry="5.3" fill="#a2aa72"/>
<ellipse cx="138.7" cy="36.3" rx="3.5" ry="4.7" fill="#42a292"/>
<ellipse cx="147.7" cy="40.7" rx="3.5" ry="4.7" fill="#8a3040"/>
<ellipse cx="153.7" cy="41.9" rx="3.0" ry="4.1" fill="#e282a2"/>
<ellipse cx="148.2" cy="49.9" rx="5.3" ry="4.7" fill="#e3b6c6"/>
<ellipse cx="73.9" cy="58.8" rx="4.7" ry="7.4" fill="#3c3c9c"/>
<ellipse cx="83.6" cy="60.0" rx="4.1" ry="5.9" fill="#323252"/>
<ellipse cx="91.5" cy="59.6" rx="4.1" ry="6.5" fill="#9242c2"/>
<ellipse cx="32.7" cy="57.1" rx="6.5" ry="6.5" fill="#e272a2"/>
<ellipse cx="31.0" cy="49.9" rx="2.1" ry="2.1" fill="#e88a9a"/>
<ellipse cx="33.9" cy="65.4" rx="7.4" ry="3.5" fill="#7a9a4a"/>
<ellipse cx="4.9" cy="63.7" rx="4.7" ry="6.5" fill="#a262d2"/>
<ellipse cx="4.9" cy="57.6" rx="2.4" ry="2.4" fill="#5ac26a"/>
<ellipse cx="4.9" cy="73.4" rx="5.3" ry="3.5" fill="#8ac27a"/>
<ellipse cx="15.8" cy="67.8" rx="4.7" ry="7.4" fill="#c242a2"/>
<ellipse cx="15.8" cy="60.5" rx="3.0" ry="2.4" fill="#b0483a"/>
<ellipse cx="23.8" cy="64.9" rx="4.1" ry="5.9" fill="#7252c2"/>
<ellipse cx="24.3" cy="72.1" rx="4.7" ry="3.0" fill="#5a68b0"/>
<ellipse cx="15.8" cy="76.5" rx="6.5" ry="4.7" fill="#b87a3a"/>
<ellipse cx="43.6" cy="78.9" rx="5.9" ry="5.9" fill="#ea3232"/>
<ellipse cx="43.6" cy="72.6" rx="2.4" ry="2.4" fill="#3a2a22"/>
<ellipse cx="97.3" cy="74.6" rx="5.3" ry="5.9" fill="#f262b2"/>
<ellipse cx="97.3" cy="68.5" rx="2.7" ry="2.7" fill="#62c242"/>
<ellipse cx="97.3" cy="84.7" rx="5.9" ry="4.7" fill="#2b2b33"/>
<ellipse cx="107.8" cy="73.4" rx="4.1" ry="4.7" fill="#4272d2"/>
<ellipse cx="117.4" cy="71.7" rx="4.1" ry="5.9" fill="#72b252"/>
<ellipse cx="111.4" cy="83.0" rx="4.1" ry="5.3" fill="#4252c2"/>
<ellipse cx="113.8" cy="79.4" rx="2.4" ry="1.8" fill="#d03030"/>
<ellipse cx="139.2" cy="70.9" rx="4.7" ry="5.3" fill="#a242c2"/>
<ellipse cx="140.9" cy="78.2" rx="4.1" ry="4.1" fill="#62b272"/>
<ellipse cx="150.1" cy="67.3" rx="5.3" ry="5.3" fill="#622282"/>
<ellipse cx="152.5" cy="75.8" rx="3.5" ry="5.3" fill="#dada22"/>
<ellipse cx="7.3" cy="94.4" rx="5.9" ry="4.1" fill="#72c262"/>
<ellipse cx="7.3" cy="106.5" rx="5.9" ry="6.5" fill="#8a52b2"/>
<ellipse cx="11.0" cy="115.7" rx="5.3" ry="4.7" fill="#a272c2"/>
<ellipse cx="15.3" cy="95.1" rx="3.5" ry="4.7" fill="#b24aa8"/>
<ellipse cx="17.0" cy="102.9" rx="4.1" ry="4.1" fill="#4ab2a2"/>
<ellipse cx="24.3" cy="93.4" rx="4.1" ry="4.1" fill="#6ac27a"/>
<ellipse cx="26.7" cy="101.2" rx="4.1" ry="5.3" fill="#3a3ac2"/>
<ellipse cx="32.7" cy="89.1" rx="5.3" ry="5.9" fill="#7aca7a"/>
<ellipse cx="44.8" cy="87.9" rx="4.7" ry="5.3" fill="#9a8ad2"/>
<ellipse cx="50.4" cy="92.0" rx="3.0" ry="4.1" fill="#e8c8d8"/>
<ellipse cx="48.5" cy="99.2" rx="5.9" ry="5.9" fill="#5aba6a"/>
<ellipse cx="89.1" cy="95.9" rx="4.7" ry="3.5" fill="#c26252"/>
<ellipse cx="99.3" cy="99.2" rx="3.5" ry="3.5" fill="#6282c2"/>
<ellipse cx="123.5" cy="96.3" rx="6.5" ry="5.3" fill="#3252b2"/>
<ellipse cx="157.4" cy="93.4" rx="3.0" ry="4.7" fill="#e29252"/>
<ellipse cx="174.3" cy="88.6" rx="5.9" ry="5.3" fill="#b2ea62"/>
<ellipse cx="175.5" cy="97.3" rx="6.5" ry="3.0" fill="#32a2a2"/>
<ellipse cx="182.8" cy="83.0" rx="3.0" ry="3.5" fill="#52c252"/>
<ellipse cx="184.5" cy="87.1" rx="2.4" ry="2.4" fill="#62c272"/>
<ellipse cx="198.0" cy="86.2" rx="4.7" ry="5.3" fill="#72a262"/>
<ellipse cx="199.0" cy="91.0" rx="4.1" ry="3.0" fill="#c8a070"/>
<ellipse cx="42.4" cy="107.2" rx="6.5" ry="8.3" fill="#b2e292"/>
<ellipse cx="49.7" cy="120.5" rx="8.3" ry="4.7" fill="#6282a2"/>
<ellipse cx="52.1" cy="104.8" rx="4.1" ry="4.7" fill="#7a4a2a"/>
<ellipse cx="61.8" cy="106.0" rx="4.7" ry="5.9" fill="#303034"/>
<ellipse cx="65.4" cy="116.2" rx="7.4" ry="3.5" fill="#cad242"/>
<ellipse cx="112.6" cy="106.0" rx="3.0" ry="3.0" fill="#8ab2a2"/>
<polygon points="15.8,166 15.8,146 36.4,137.5 63,125.4 116.5,113 221,94 221,166" fill="#2d4d9d"/>
<polygon points="15.8,146 36.4,137.5 63,125.4 116.5,112 221,94.5 221,103 180,108.5 152,114.7 135,120 123.5,124 105,124 70,132 40,145 20,155 15.8,158" fill="#3393e3"/>
<polygon points="63,125.4 83,120.5 85,132 66,138" fill="#d99272"/>
<rect x="47.3" y="131" width="7.5" height="12.6" fill="#9bd172"/>
<rect x="32.4" y="137.4" width="7.4" height="20" fill="#46b696"/>
<rect x="16" y="145" width="15" height="10" fill="#7343d3"/>
<rect x="16" y="155" width="14" height="9" fill="#c08a6a"/>
<ellipse cx="170" cy="128" rx="40" ry="9" fill="#25408a" opacity="0.55"/>
<ellipse cx="185" cy="150" rx="30" ry="6" fill="#25408a" opacity="0.45"/>
<ellipse cx="80" cy="152" rx="40" ry="8" fill="#3a5aae" opacity="0.6"/>
<ellipse cx="120" cy="140.5" rx="16" ry="3.4" fill="#b67696" opacity="0.9"/>
<ellipse cx="138" cy="141.5" rx="14" ry="1.8" fill="#a86a90" opacity="0.8"/>
<path d="M64.4 96.8 L69.0 94.4 L76.0 95.2 L87.0 101.0 L100.0 107.5 L106.0 109.5 L111.0 113.0 L118.9 120.2 L122.5 129.7 L123.8 136.8 L122.5 140.8 L118.9 140.8 L113.0 136.8 L105.8 130.5 L98.0 127.2 L91.7 124.5 L83.4 119.5 L75.0 112.5 L66.8 103.8Z" fill="#9ba3ab" stroke="#9ba3ab" stroke-width="1.2" stroke-linejoin="round"/>
<path d="M68.0 96.3 L76.0 97.0 L87.0 102.8 L100.0 109.5 L110.0 114.5 L117.0 121.5" stroke="#c5cad0" stroke-width="1.5" fill="none" stroke-linecap="round" stroke-linejoin="round"/>
<path d="M112 128 L121 131 L123 139 L117 139Z" fill="#8a98b0"/>
<polygon points="86.0,118.6 79.4,129.3 90.1,129.3 92.5,123.9" fill="#2b3bb1"/>
</g>
<rect x="-1" y="-4.97" width="220" height="4.97" fill="#fff"/>
<text x="109" y="-0.8" font-size="3.2" text-anchor="middle" fill="#444" style="font-weight:normal">ViT-H SAM</text>
</g>
<!-- /PHOTO_R -->
<!-- CUPS -->
<defs>
<linearGradient id="cupg" x1="0" y1="0" x2="1" y2="0"><stop offset="0" stop-color="#6f5fa4"/><stop offset="0.3" stop-color="#8f7fae"/><stop offset="0.62" stop-color="#b3a3b3"/><stop offset="1" stop-color="#a595a6"/></linearGradient>
<linearGradient id="matg" x1="0" y1="0" x2="1" y2="0"><stop offset="0" stop-color="#474ca4"/><stop offset="0.25" stop-color="#6b71bc"/><stop offset="0.55" stop-color="#c4c9e4"/><stop offset="1" stop-color="#e6e7f0"/></linearGradient>
<linearGradient id="matv" x1="0" y1="0" x2="0" y2="1"><stop offset="0" stop-color="#4a4fa0" stop-opacity="0.3"/><stop offset="1" stop-color="#ffffff" stop-opacity="0.4"/></linearGradient>
<filter id="blC" x="-5%" y="-5%" width="110%" height="110%"><feGaussianBlur stdDeviation="0.6"/></filter>
<clipPath id="cpT"><rect x="0.80" y="0.80" width="26.40" height="25.95" rx="2.6"/><rect x="28.50" y="0.80" width="27.45" height="25.95" rx="2.6"/><rect x="57.25" y="0.80" width="27.15" height="25.95" rx="2.6"/><rect x="0.80" y="28.05" width="26.40" height="24.80" rx="2.6"/><rect x="28.50" y="28.05" width="27.45" height="24.80" rx="2.6"/><rect x="57.25" y="28.05" width="27.15" height="24.80" rx="2.6"/><rect x="0.80" y="54.15" width="26.40" height="25.95" rx="2.6"/><rect x="28.50" y="54.15" width="27.45" height="25.95" rx="2.6"/><rect x="57.25" y="54.15" width="27.15" height="25.95" rx="2.6"/></clipPath>
<clipPath id="cpV"><rect x="0.40" y="0.40" width="26.80" height="26.35" rx="3"/><rect x="57.25" y="28.05" width="27.55" height="24.80" rx="3"/><rect x="28.50" y="54.15" width="27.45" height="26.35" rx="3"/></clipPath>
<g id="cupimg" filter="url(#blC)">
<rect x="-2" y="-2" width="89.2" height="84.9" fill="#8a6a50"/>
<rect x="-2" y="-2" width="18" height="34" fill="#3f6e6c"/>
<rect x="52" y="-2" width="36" height="26" fill="#3b2019"/>
<rect x="66" y="2" width="10" height="14" fill="#5a2c20"/>
<rect x="52" y="24" width="36" height="32" fill="#c98a52"/>
<rect x="-2" y="30" width="18" height="24" fill="#c27c45"/>
<rect x="-2" y="40" width="14" height="8" fill="#dc9a58"/>
<polygon points="-2,53 40,55 88,58 88,84 -2,84" fill="url(#matg)"/>
<polygon points="-2,53 40,55 88,58 88,84 -2,84" fill="url(#matv)"/>
<ellipse cx="52" cy="72" rx="20" ry="5" fill="#8a8aa8" opacity="0.55"/>
<ellipse cx="71" cy="37.5" rx="9.5" ry="16.4" fill="#c58448"/>
<path d="M63.2 28 A9.5 16.4 0 0 1 78.8 28 Z" fill="#4a3228"/>
<polygon points="61,40 70,38 78,50 62,52" fill="#ece6e2"/>
<rect x="66.5" y="27" width="5.2" height="15" fill="#b3478c"/>
<rect x="66.5" y="22.5" width="5.2" height="4.5" fill="#d8d2e4"/>
<rect x="72.5" y="32" width="6.5" height="13" fill="#c44c7c"/>
<rect x="72.5" y="28.5" width="6.5" height="4" fill="#3f8f68"/>
<rect x="72.5" y="25.5" width="6.5" height="3" fill="#dcd6e6"/>
<rect x="65" y="44" width="10" height="3" fill="#8a5a30"/>
<ellipse cx="71.5" cy="37" rx="11" ry="18.3" fill="none" stroke="#d4d4d6" stroke-width="5.4"/>
<path d="M81.5 26 Q84.8 37 80.5 49 Q74 57.5 63 54.5" fill="none" stroke="#7c828c" stroke-width="3.2" stroke-linecap="round"/>
<path d="M4.5 7 Q30 1 62 6 L60.5 38 Q58.5 64 51 71.5 Q34 74.5 19 71.5 Q11 60 7.5 36 Z" fill="url(#cupg)"/>
<ellipse cx="33" cy="6.6" rx="28.5" ry="3.6" fill="#d6cacc"/>
<ellipse cx="33" cy="3.4" rx="26" ry="2.2" fill="#6a4a40" opacity="0.45"/>
</g>
</defs>
<g transform="translate(41.4 193.4)"><rect x="0" y="0" width="85.2" height="80.9" rx="3.4" fill="#fff"/><g clip-path="url(#cpT)"><use href="#cupimg"/></g></g>
<g transform="translate(204 318.6) scale(0.9930 0.9765)"><rect x="0" y="0" width="85.2" height="80.9" rx="3.4" fill="#fff"/>
<rect x="28.50" y="0.40" width="27.45" height="26.35" rx="3" fill="#3a3f4a"/>
<rect x="57.25" y="0.40" width="27.55" height="26.35" rx="3" fill="#3a3f4a"/>
<rect x="0.40" y="28.05" width="26.80" height="24.80" rx="3" fill="#3a3f4a"/>
<rect x="28.50" y="28.05" width="27.45" height="24.80" rx="3" fill="#3a3f4a"/>
<rect x="0.40" y="54.15" width="26.80" height="26.35" rx="3" fill="#3a3f4a"/>
<rect x="57.25" y="54.15" width="27.55" height="26.35" rx="3" fill="#3a3f4a"/>
<g clip-path="url(#cpV)"><use href="#cupimg"/></g></g>
<!-- /CUPS -->
</svg>
</body></html>
